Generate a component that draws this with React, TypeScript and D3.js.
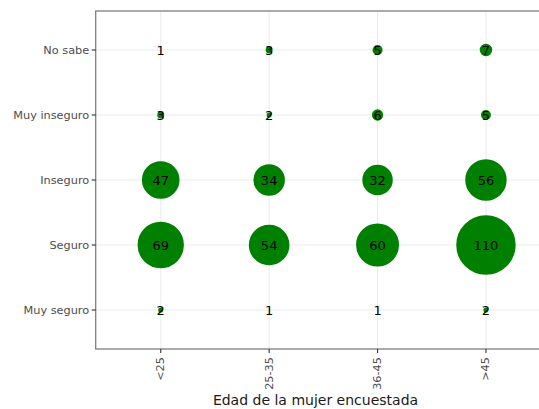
import React from "react";
import * as d3 from "d3";

const ageGroups = ["<25", "25-35", "36-45", ">45"];
const feelings = ["No sabe", "Muy inseguro", "Inseguro", "Seguro", "Muy seguro"];
// counts per age group, in the order of `feelings`
const countsUnder25 = [1, 3, 47, 69, 2];
const counts25to35 = [3, 2, 34, 54, 1];
const counts36to45 = [5, 6, 32, 60, 1];
const countsOver45 = [7, 5, 56, 110, 2];
const countsByAge = [countsUnder25, counts25to35, counts36to45, countsOver45];
const xTitle = "Edad de la mujer encuestada";

const W = 539;
const H = 409;
const left = 95.7;
const right = 551;
const top = 11;
const bottom = 349;

export default function App() {
  const x = d3.scalePoint<string>().domain(ageGroups).range([left, right]).padding(0.6);
  const y = d3.scalePoint<string>().domain(feelings).range([top, bottom]).padding(0.6);
  const r = d3.scaleSqrt().domain([1, 110]).range([0, 28.4]);

  const cells = ageGroups.flatMap((a, i) =>
    feelings.map((f, j) => ({ a, f, v: countsByAge[i][j] }))
  );
  const font = "'DejaVu Sans', sans-serif";

  return (
    <svg
      width={W}
      height={H}
      style={{ position: "absolute", left: 0, top: 0, background: "#fff" }}
      fontFamily={font}
    >
      <rect x={0} y={0} width={W} height={H} fill="#fff" />
      <g>
        {ageGroups.map((a) => (
          <line key={a} x1={x(a)} x2={x(a)} y1={top} y2={bottom} stroke="#ebebeb" strokeWidth={1.1} />
        ))}
        {feelings.map((f) => (
          <line key={f} x1={left} x2={right} y1={y(f)} y2={y(f)} stroke="#ebebeb" strokeWidth={1.1} />
        ))}
      </g>
      <rect x={left} y={top} width={right - left} height={bottom - top} fill="none" stroke="#7f7f7f" strokeWidth={1.3} />
      <g>
        {cells.map((c) =>
          r(c.v) > 0 ? (
            <circle
              key={c.a + c.f}
              cx={x(c.a)}
              cy={y(c.f)}
              r={r(c.v)}
              fill="#008000"
              stroke="#008000"
              strokeWidth={2.6}
            />
          ) : null
        )}
        {cells.map((c) => (
          <text
            key={"t" + c.a + c.f}
            x={x(c.a)}
            y={y(c.f)}
            textAnchor="middle"
            dominantBaseline="central"
            fontSize={13}
            fill="#000"
          >
            {c.v}
          </text>
        ))}
      </g>
      <g>
        {feelings.map((f) => (
          <g key={f}>
            <line x1={left - 4} x2={left} y1={y(f)} y2={y(f)} stroke="#333" strokeWidth={1.1} />
            <text
              x={left - 6.5}
              y={y(f)}
              textAnchor="end"
              dominantBaseline="central"
              fontSize={11.3}
              fill="#4d4d4d"
            >
              {f}
            </text>
          </g>
        ))}
        {ageGroups.map((a) => (
          <g key={a}>
            <line x1={x(a)} x2={x(a)} y1={bottom} y2={bottom + 4} stroke="#333" strokeWidth={1.1} />
            <text
              transform={`translate(${x(a)},${bottom + 8}) rotate(-90)`}
              textAnchor="end"
              dominantBaseline="central"
              fontSize={11.3}
              fill="#4d4d4d"
            >
              {a}
            </text>
          </g>
        ))}
      </g>
      <text x={315.5} y={400} textAnchor="middle" dominantBaseline="central" fontSize={14} fill="#1a1a1a">
        {xTitle}
      </text>
    </svg>
  );
}
